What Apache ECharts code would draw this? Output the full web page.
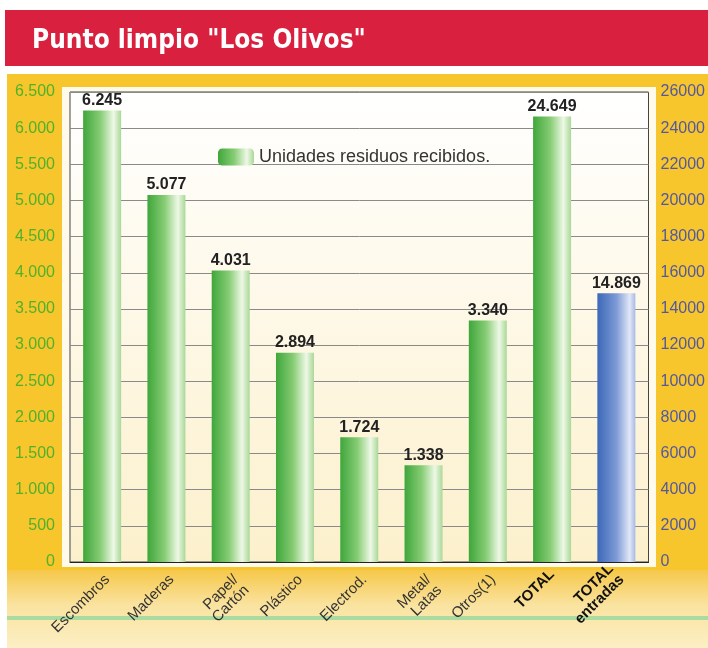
<!DOCTYPE html>
<html>
<head>
<meta charset="utf-8">
<script src="https://cdn.jsdelivr.net/npm/echarts@6/dist/echarts.min.js"></script>
<style>
  html, body { margin: 0; padding: 0; background: #ffffff; }
  #chart { width: 708px; height: 648px; }
</style>
</head>
<body>
<div id="chart"></div>
<script>
// Punto limpio "Los Olivos"
var categories = ["Escombros", "Maderas", "Papel/\nCartón", "Plástico", "Electrod.", "Metal/\nLatas", "Otros(1)", "TOTAL", "TOTAL\nentradas"];
var residuos = [6245, 5077, 4031, 2894, 1724, 1338, 3340, "-", "-"];
var totalResiduos = ["-", "-", "-", "-", "-", "-", "-", 24649, "-"];
var totalEntradas = ["-", "-", "-", "-", "-", "-", "-", "-", 14869];
var leftTicks = { min: 0, max: 6500, interval: 500 };
var rightTicks = { min: 0, max: 26000, interval: 2000 };

function puntos(v) {
    return String(v).replace(/\B(?=(\d{3})+(?!\d))/g, ".");
}

(function () {
    var myChart = echarts.init(document.getElementById("chart"));

    var verde = new echarts.graphic.LinearGradient(0, 0, 1, 0, [
        { offset: 0, color: "#3fa63b" },
        { offset: 0.45, color: "#86cc74" },
        { offset: 0.8, color: "#eef8e6" },
        { offset: 1, color: "#a9d897" }
    ]);
    var azul = new echarts.graphic.LinearGradient(0, 0, 1, 0, [
        { offset: 0, color: "#3c68b8" },
        { offset: 0.5, color: "#7d9ad6" },
        { offset: 0.85, color: "#e0e7f7" },
        { offset: 1, color: "#a9b9e4" }
    ]);

    var etiqueta = {
        show: true,
        position: "top",
        distance: 2,
        color: "#222",
        fontSize: 16,
        fontWeight: "bold",
        fontFamily: "Liberation Sans, Arial, sans-serif",
        formatter: function (p) { return puntos(p.value); }
    };

    var catData = categories.map(function (c) {
        if (c.indexOf("TOTAL") === 0) {
            return { value: c, textStyle: { fontWeight: "bold", color: "#111" } };
        }
        return c;
    });

    var option = {
        animation: false,
        title: {
            text: 'Punto limpio "Los Olivos"',
            left: 27,
            top: 23,
            textStyle: {
                color: "#ffffff",
                fontSize: 26,
                fontWeight: "bold",
                fontFamily: "Liberation Sans Narrow, DejaVu Sans Condensed, Arial, sans-serif"
            }
        },
        graphic: [
            { type: "rect", z: -10, shape: { x: 5, y: 10, width: 703, height: 56 }, style: { fill: "#d9213f" } },
            { type: "rect", z: -10, shape: { x: 7, y: 74, width: 701, height: 500 }, style: { fill: "#f6c62c" } },
            {
                type: "rect", z: -10, shape: { x: 7, y: 570, width: 701, height: 78 },
                style: {
                    fill: new echarts.graphic.LinearGradient(0, 0, 0, 1, [
                        { offset: 0, color: "#f6c84a" },
                        { offset: 0.45, color: "#fae3a0" },
                        { offset: 1, color: "#fcefc4" }
                    ])
                }
            },
            { type: "rect", z: -9, shape: { x: 7, y: 616, width: 701, height: 4 }, style: { fill: "#aadba0" } },
            { type: "rect", z: -9, shape: { x: 62, y: 87, width: 594, height: 480 }, style: { fill: "#fffaea" } }
        ],
        legend: {
            data: ["Unidades residuos recibidos."],
            left: 213,
            top: 143,
            itemWidth: 36,
            itemHeight: 17,
            itemGap: 4,
            textStyle: {
                color: "#333",
                fontSize: 18,
                fontFamily: "Liberation Sans, Arial, sans-serif"
            }
        },
        grid: {
            left: 70,
            right: 58,
            top: 92,
            bottom: 86,
            show: true,
            borderColor: "#444",
            borderWidth: 1,
            backgroundColor: new echarts.graphic.LinearGradient(0, 0, 0, 1, [
                { offset: 0, color: "#ffffff" },
                { offset: 1, color: "#fcf0cc" }
            ])
        },
        xAxis: {
            type: "category",
            data: catData,
            axisTick: { show: false },
            axisLine: { lineStyle: { color: "#222" } },
            axisLabel: {
                rotate: 45,
                interval: 0,
                margin: 10,
                color: "#333",
                fontSize: 15,
                lineHeight: 15,
                verticalAlign: "top",
                fontFamily: "Liberation Sans, Arial, sans-serif"
            }
        },
        yAxis: [
            {
                type: "value",
                min: leftTicks.min,
                max: leftTicks.max,
                interval: leftTicks.interval,
                axisLine: { show: false },
                axisTick: { show: false },
                splitLine: { lineStyle: { color: "#8a8a8a" } },
                axisLabel: {
                    margin: 15,
                    color: "#52b12a",
                    fontSize: 16,
                    fontFamily: "Liberation Sans, Arial, sans-serif",
                    formatter: puntos
                }
            },
            {
                type: "value",
                min: rightTicks.min,
                max: rightTicks.max,
                interval: rightTicks.interval,
                axisLine: { show: false },
                axisTick: { show: false },
                splitLine: { show: false },
                axisLabel: {
                    margin: 12,
                    color: "#55589e",
                    fontSize: 16,
                    fontFamily: "Liberation Sans, Arial, sans-serif",
                    formatter: function (v) { return String(v); }
                }
            }
        ],
        series: [
            {
                name: "Unidades residuos recibidos.",
                type: "bar",
                yAxisIndex: 0,
                barWidth: 38,
                barGap: "-100%",
                itemStyle: { color: verde },
                label: etiqueta,
                data: residuos
            },
            {
                name: "TOTAL",
                type: "bar",
                yAxisIndex: 1,
                barWidth: 38,
                barGap: "-100%",
                itemStyle: { color: verde },
                label: etiqueta,
                data: totalResiduos
            },
            {
                name: "TOTAL entradas",
                type: "bar",
                yAxisIndex: 1,
                barWidth: 38,
                barGap: "-100%",
                itemStyle: { color: azul },
                label: etiqueta,
                data: totalEntradas
            }
        ]
    };

    myChart.setOption(option);
    window.addEventListener("resize", function () {
        myChart.resize();
    });
})();
</script>
</body>
</html>
